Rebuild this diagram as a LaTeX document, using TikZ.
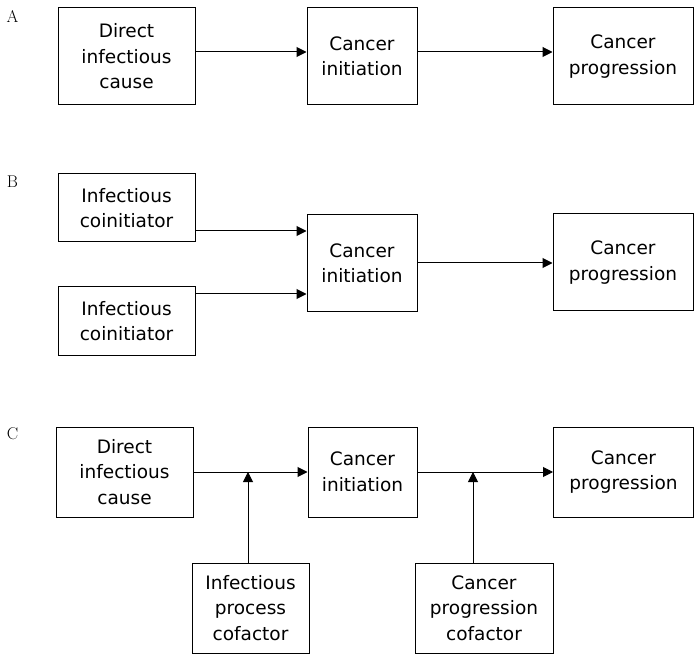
\documentclass[tikz,border=0pt]{standalone}
\usepackage{fontspec}
\newfontfamily\boxfont{DejaVu Sans}
\usetikzlibrary{arrows.meta,calc}

\tikzset{
  box/.style={draw, rectangle, inner sep=0pt, align=center,
    font=\boxfont\fontsize{18.5}{25.5}\selectfont},
  panel/.style={font=\fontsize{17}{17}\selectfont}
}

\begin{document}
\begin{tikzpicture}[>={Triangle[length=10pt,width=10pt]}, line width=1pt, x=1pt, y=-1pt]
    \useasboundingbox (0,0) rectangle (694,655);

    % Panel A
    \node[panel] (labA) at (12.5,16) {A};
    \node[box, minimum width=137pt, minimum height=97pt] (directA) at (126.5,56.5) {Direct\\infectious\\cause};
    \node[box, minimum width=110pt, minimum height=97pt] (initA) at (362,56.5) {Cancer\\initiation};
    \node[box, minimum width=140pt, minimum height=97pt] (progA) at (623,56.5) {Cancer\\progression};
    \draw[->] (directA.east |- 0,52) -- (initA.west |- 0,52);
    \draw[->] (initA.east |- 0,52) -- (progA.west |- 0,52);

    % Panel B
    \node[panel] (labB) at (12.5,182) {B};
    \node[box, minimum width=137pt, minimum height=68pt] (coinitTop) at (126.5,208) {Infectious\\coinitiator};
    \node[box, minimum width=137pt, minimum height=68pt] (coinitBot) at (126.5,321) {Infectious\\coinitiator};
    \node[box, minimum width=110pt, minimum height=97pt] (initB) at (362,263.5) {Cancer\\initiation};
    \node[box, minimum width=140pt, minimum height=97pt] (progB) at (623,262.5) {Cancer\\progression};
    \draw[->] (coinitTop.east |- 0,231) -- (initB.west |- 0,231);
    \draw[->] (coinitBot.east |- 0,294) -- (initB.west |- 0,294);
    \draw[->] (initB.east |- 0,263) -- (progB.west |- 0,263);

    % Panel C
    \node[panel] (labC) at (12.5,434) {C};
    \node[box, minimum width=137pt, minimum height=90pt] (directC) at (124.5,472) {Direct\\infectious\\cause};
    \node[box, minimum width=109pt, minimum height=90pt] (initC) at (362.5,472) {Cancer\\initiation};
    \node[box, minimum width=140pt, minimum height=90pt] (progC) at (623.5,472) {Cancer\\progression};
    \node[box, minimum width=117pt, minimum height=90pt] (cofInf) at (250.5,608) {Infectious\\process\\cofactor};
    \node[box, minimum width=138pt, minimum height=90pt] (cofProg) at (484,608) {Cancer\\progression\\cofactor};
    \coordinate (jInf) at (248,472);
    \coordinate (jProg) at (473,472);
    \draw[->] (directC) -- (initC);
    \draw[->] (initC) -- (progC);
    \draw[->] (cofInf.north -| jInf) -- (jInf);
    \draw[->] (cofProg.north -| jProg) -- (jProg);
\end{tikzpicture}
\end{document}
